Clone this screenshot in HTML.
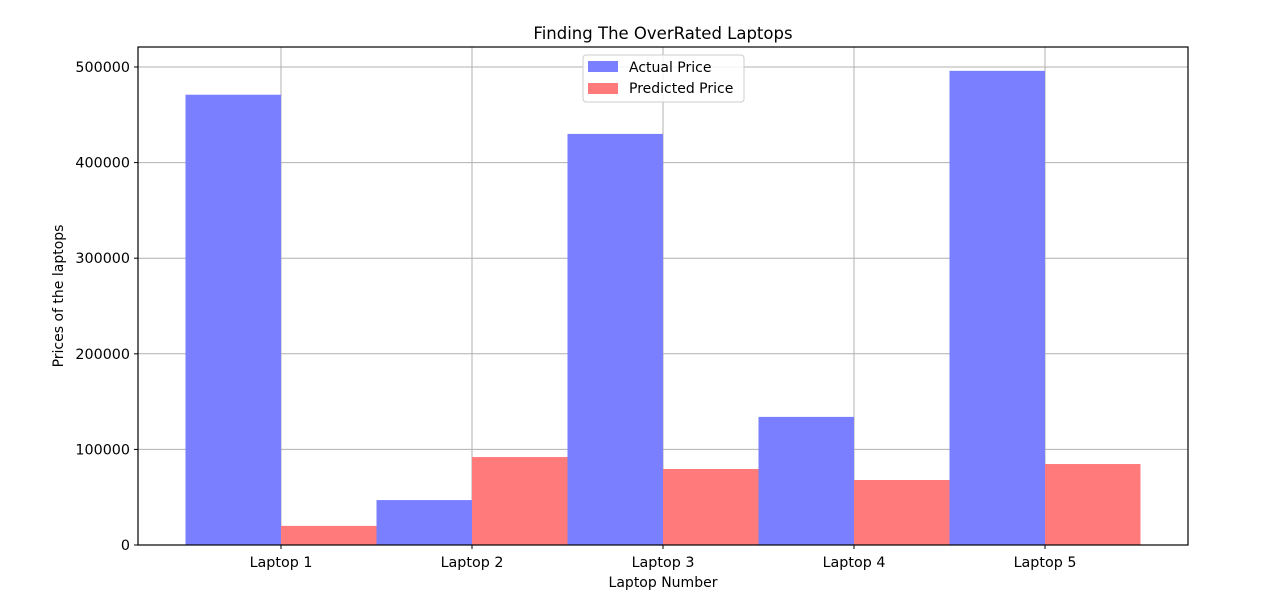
<!DOCTYPE html>
<html><head><meta charset="utf-8"><style>
body{margin:0;background:#fff;width:1280px;height:610px;overflow:hidden;font-family:"Liberation Sans","DejaVu Sans",sans-serif;}
</style></head><body>
<svg id="chart" width="1280" height="610" xmlns="http://www.w3.org/2000/svg" font-family="DejaVu Sans, Liberation Sans, sans-serif">
<rect width="1280" height="610" fill="#fff"/>
<text x="663" y="39" font-size="16.5" text-anchor="middle" fill="#000">Finding The OverRated Laptops</text>
<text x="663" y="587" font-size="14" text-anchor="middle">Laptop Number</text>
<text transform="translate(63,296) rotate(-90)" font-size="14" text-anchor="middle">Prices of the laptops</text>
<g id="grid"></g><g id="bars"></g><g id="ticks"></g>
<rect x="138" y="47" width="1050" height="498" fill="none" stroke="#000" stroke-width="1.2"/>
<g>
<rect x="583" y="55" width="161" height="47" rx="3" fill="#fff" fill-opacity="0.85" stroke="#ccc"/>
<rect x="588" y="61" width="30" height="11" fill="#7a7fff"/>
<text x="629" y="72" font-size="14">Actual Price</text>
<rect x="588" y="83" width="30" height="11" fill="#ff7b7b"/>
<text x="629" y="93" font-size="14">Predicted Price</text>
</g>
</svg>
<script>
const categories=["Laptop 1","Laptop 2","Laptop 3","Laptop 4","Laptop 5"];
const actualPrice=[471000,47000,430000,134000,496000];
const predictedPrice=[20000,92000,79500,68000,84700];
const yTicks=[0,100000,200000,300000,400000,500000];
const NS="http://www.w3.org/2000/svg";
const x0=281,dx=191,bw=95.5;
function xs(i){return x0+i*dx;}
function ys(v){return 545-v*478/500000;}
function mk(t,a,p){const e=document.createElementNS(NS,t);for(const k in a)e.setAttribute(k,a[k]);p.appendChild(e);return e;}
const grid=document.getElementById('grid'),bars=document.getElementById('bars'),ticks=document.getElementById('ticks');
yTicks.forEach(v=>{const y=ys(v);
 const l=mk('line',{x1:138,x2:1188,y1:y,y2:y,stroke:'#b0b0b0','stroke-width':1},grid);
 
 
 mk('line',{x1:134,x2:138,y1:y,y2:y,stroke:'#000'},ticks);
 const t=mk('text',{x:130,y:y+5,'font-size':14.3,'text-anchor':'end'},ticks);t.textContent=v;
 
 
});
categories.forEach((c,i)=>{const x=xs(i);
 const l=mk('line',{x1:x,x2:x,y1:47,y2:545,stroke:'#b0b0b0','stroke-width':1},grid);
 
 
 const a=mk('rect',{x:x-bw,y:ys(actualPrice[i]),width:bw,height:545-ys(actualPrice[i]),fill:'#7a7fff'},bars);
 
 
 const p=mk('rect',{x:x,y:ys(predictedPrice[i]),width:bw,height:545-ys(predictedPrice[i]),fill:'#ff7b7b'},bars);
 
 
 mk('line',{x1:x,x2:x,y1:545,y2:549,stroke:'#000'},ticks);
 const t=mk('text',{x:x,y:567,'font-size':14.3,'text-anchor':'middle'},ticks);t.textContent=c;
 
 
});
</script>
</body></html>
